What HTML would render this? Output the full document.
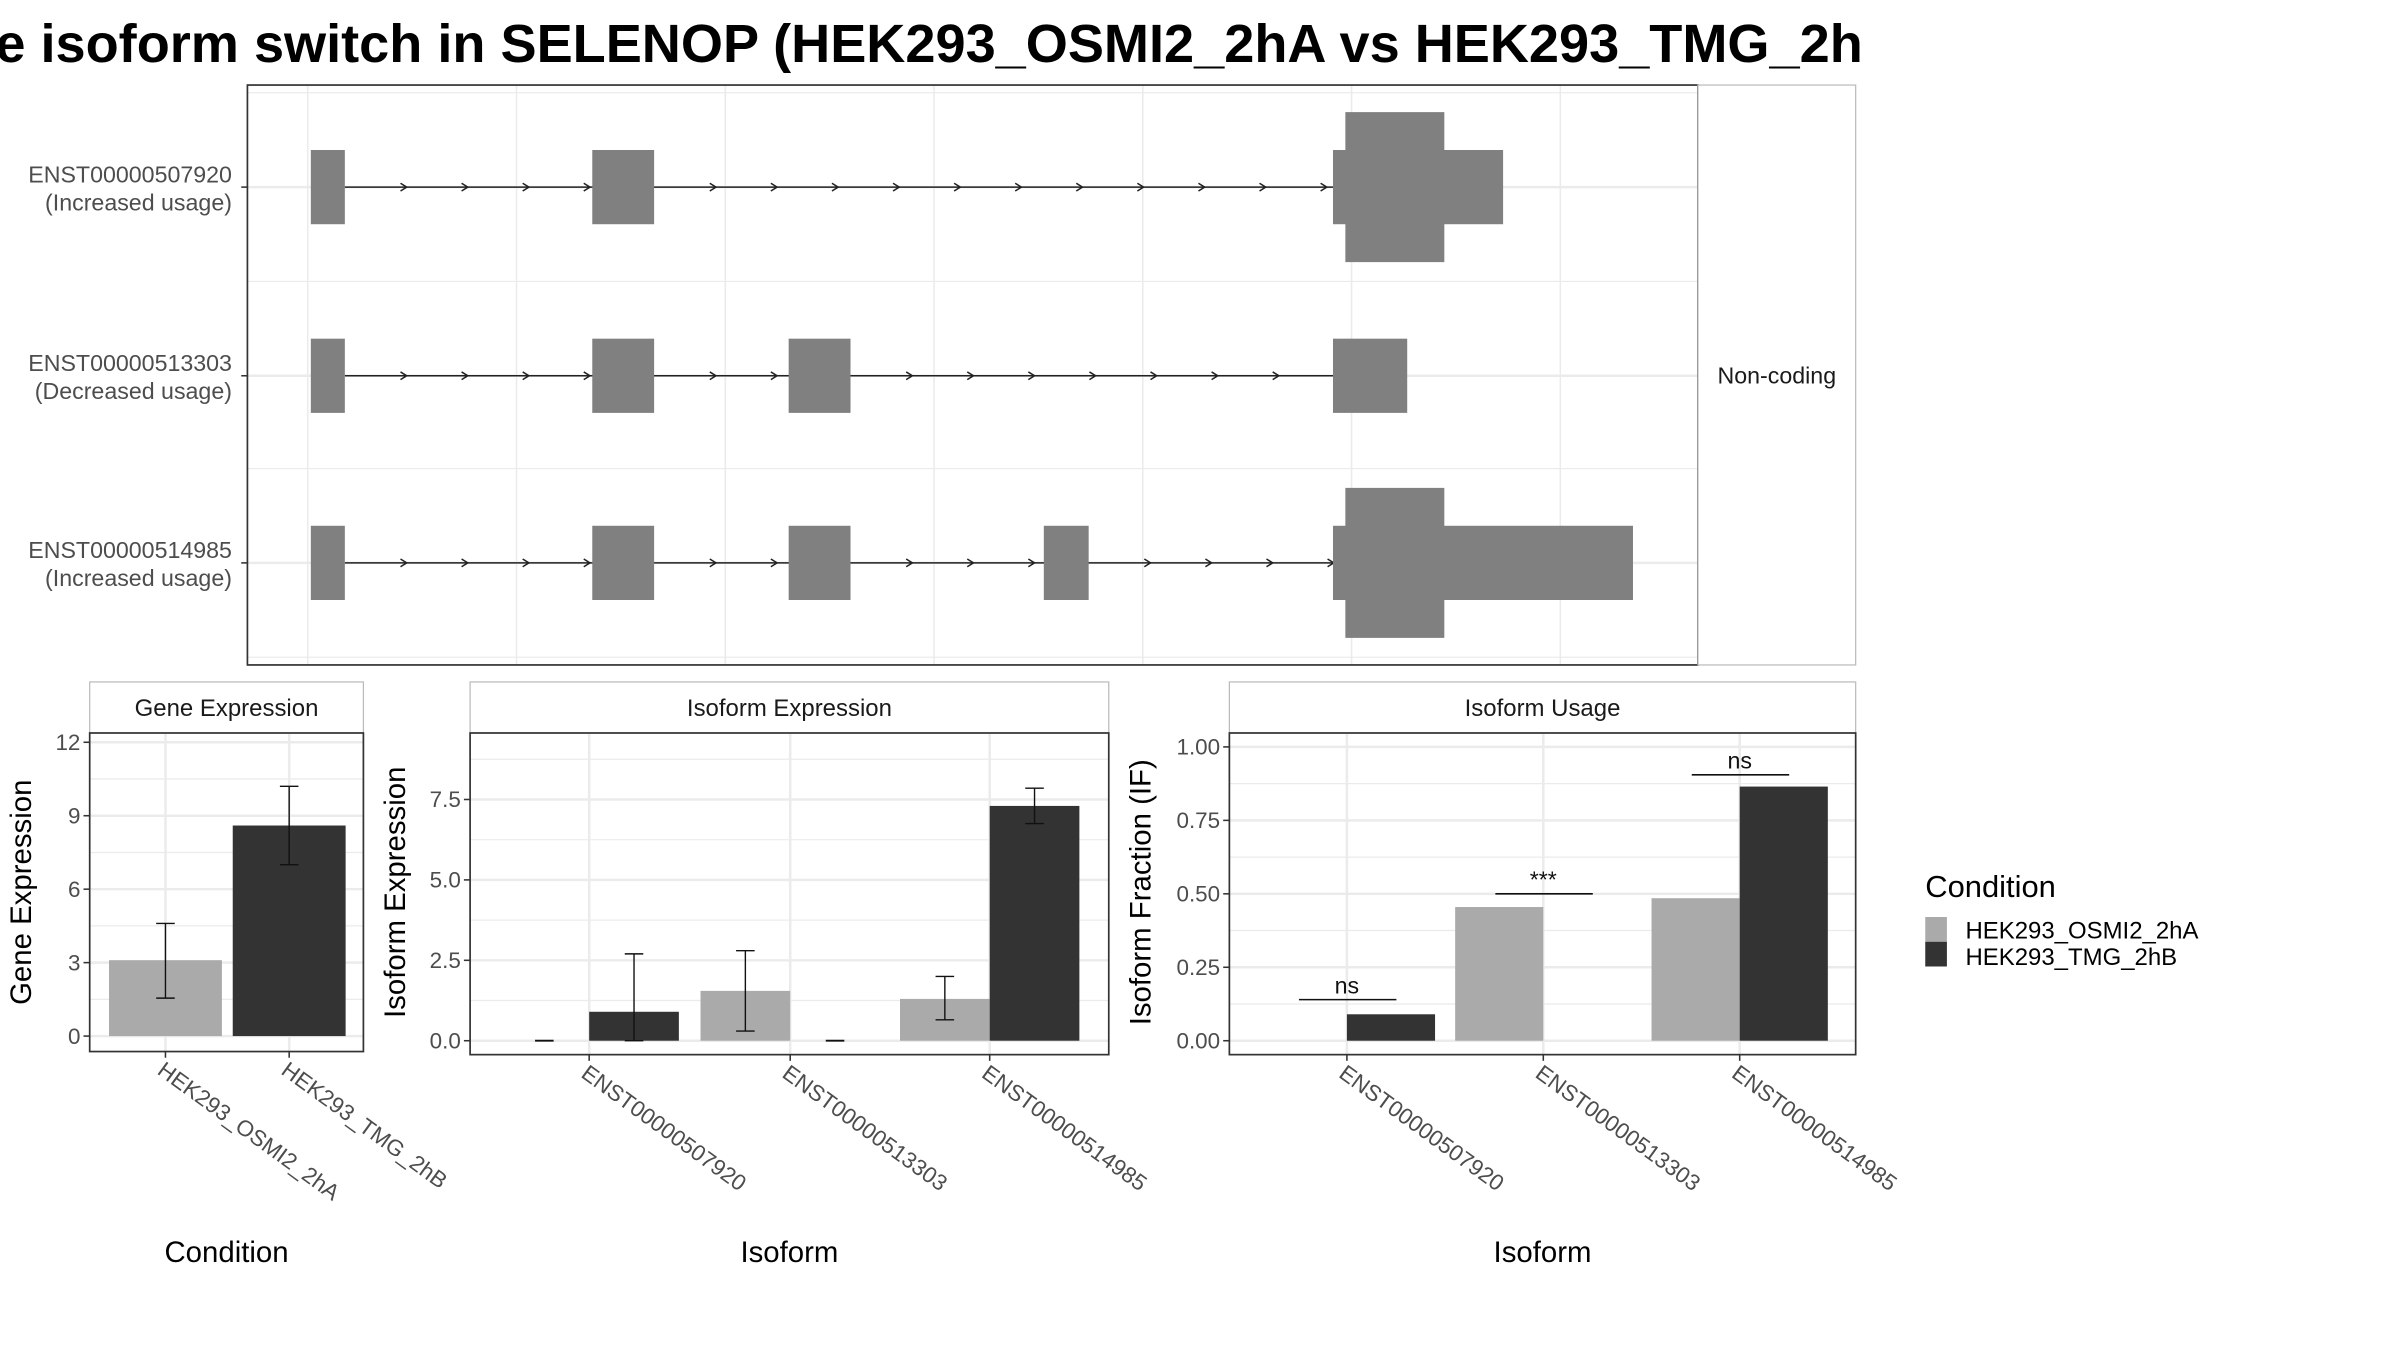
<!DOCTYPE html>
<html><head><meta charset="utf-8">
<style>
html,body{margin:0;padding:0;background:#fff;}
svg{display:block;font-family:"Liberation Sans",Arial,sans-serif;}
</style></head>
<body>
<svg id="root" width="2400" height="1350" viewBox="0 0 1552 873" xmlns="http://www.w3.org/2000/svg">
<rect width="1552" height="873" fill="#fff"/>
<defs><clipPath id="tclip"><rect x="0" y="0" width="1206" height="60"/></clipPath></defs>
<text x="-3" y="40" font-size="35" font-weight="bold" clip-path="url(#tclip)">e isoform switch in SELENOP (HEK293_OSMI2_2hA vs HEK293_TMG_2hB)</text>

<g id="topPanel"></g>
<g id="gene"></g>
<g id="iso"></g>
<g id="usage"></g>

<g>
<text x="1245" y="580" font-size="20">Condition</text>
<rect x="1245" y="593" width="14" height="16" fill="#aaaaaa"/>
<rect x="1245" y="609" width="14" height="16" fill="#333333"/>
<text x="1271" y="607" font-size="15.5">HEK293_OSMI2_2hA</text>
<text x="1271" y="624" font-size="15.5">HEK293_TMG_2hB</text>
</g>
</svg>
<script>
const NS='http://www.w3.org/2000/svg';
function mk(p,tag,a,txt){const e=document.createElementNS(NS,tag);for(const k in a)e.setAttribute(k,a[k]);if(txt!==undefined)e.textContent=txt;p.appendChild(e);return e;}

/* ---------- data ---------- */
const transcripts=['ENST00000507920','ENST00000513303','ENST00000514985'];
const usageLabels=['(Increased usage)','(Decreased usage)','(Increased usage)'];
const exonsStart=[[201,383,862],[201,383,510,862],[201,383,510,675,862]];
const exonsEnd=[[223,423,972],[223,423,550,910],[223,423,550,704,1056]];
const cdsStart=[870,null,870];
const cdsEnd=[934,null,934];

const conditions=['HEK293_OSMI2_2hA','HEK293_TMG_2hB'];
const geneVals=[3.1,8.6];
const geneLo=[1.55,7.0];
const geneHi=[4.6,10.2];
const geneTicks=[0,3,6,9,12];

const isoOsmi=[0,1.55,1.3];
const isoTmg=[0.9,0,7.3];
const isoOsmiLo=[null,0.3,0.65];
const isoOsmiHi=[null,2.8,2.0];
const isoTmgLo=[0,null,6.75];
const isoTmgHi=[2.7,null,7.85];
const isoTicks=[0,2.5,5,7.5];
const isoTickLabels=['0.0','2.5','5.0','7.5'];

const ifOsmi=[0,0.455,0.485];
const ifTmg=[0.09,0,0.865];
const sigLabels=['ns','***','ns'];
const sigY=[0.14,0.5,0.905];
const ifTicks=[0,0.25,0.5,0.75,1];
const ifTickLabels=['0.00','0.25','0.50','0.75','1.00'];

const LIGHT='#aaaaaa',DARK='#333333',GRID='#ebebeb',TXT='#4d4d4d';

/* ---------- top panel ---------- */
const topG=document.getElementById('topPanel');
mk(topG,'rect',{x:160,y:55,width:938,height:375,fill:'#fff'});
[199,334,469,604,739,874,1009].forEach(x=>{const l=mk(topG,'line',{x1:x,x2:x,y1:55,y2:430,stroke:GRID,'stroke-width':1});});
[60,182,303,425].forEach(y=>mk(topG,'line',{x1:160,x2:1098,y1:y,y2:y,stroke:GRID,'stroke-width':0.8}));
const rowY=[121,243,364];
rowY.forEach(y=>mk(topG,'line',{x1:160,x2:1098,y1:y,y2:y,stroke:GRID,'stroke-width':1.6}));
transcripts.forEach((t,i)=>{
  const y=rowY[i];const g=mk(topG,'g',{});
  
  
  const s=exonsStart[i],e=exonsEnd[i];
  mk(g,'line',{x1:e[0],x2:s[s.length-1],y1:y,y2:y,stroke:'#222','stroke-width':1});
  for(let k=0;k<s.length-1;k++){
    for(let x=e[k]+40;x<=s[k+1]+1;x+=39.5){mk(g,'path',{d:`M${x-4},${y-2.5} L${x},${y} L${x-4},${y+2.5}`,stroke:'#222',fill:'none','stroke-width':1});}
  }
  s.forEach((x0,k)=>{const r=mk(g,'rect',{x:x0,y:y-24,width:e[k]-x0,height:48,fill:'#808080'});});
  if(cdsStart[i]!==null){mk(g,'rect',{x:cdsStart[i],y:y-48.5,width:cdsEnd[i]-cdsStart[i],height:97,fill:'#808080'});}
  mk(topG,'text',{x:150,y:y-3,'font-size':15,'text-anchor':'end',fill:TXT},t);
  mk(topG,'text',{x:150,y:y+15,'font-size':15,'text-anchor':'end',fill:TXT},usageLabels[i]);
  mk(topG,'line',{x1:156,x2:160,y1:y,y2:y,stroke:'#333'});
});
mk(topG,'rect',{x:160,y:55,width:938,height:375,fill:'none',stroke:'#333','stroke-width':1.1});
mk(topG,'rect',{x:1098,y:55,width:102,height:375,fill:'#fff',stroke:'#bbb','stroke-width':0.8});
mk(topG,'text',{x:1149,y:248,'font-size':15,'text-anchor':'middle',fill:'#1a1a1a'},'Non-coding');

/* ---------- generic bar panel ---------- */
function panel(g,o){
  mk(g,'rect',{x:o.x0,y:441,width:o.x1-o.x0,height:33,fill:'#fff',stroke:'#bbb','stroke-width':0.8});
  mk(g,'text',{x:(o.x0+o.x1)/2,y:463,'font-size':15.5,'text-anchor':'middle',fill:'#1a1a1a'},o.strip);
  const Y=v=>o.yz-(v)*o.ys;
  for(let k=0;k<o.ticks.length-1;k++){const v=(o.ticks[k]+o.ticks[k+1])/2;mk(g,'line',{x1:o.x0,x2:o.x1,y1:Y(v),y2:Y(v),stroke:GRID,'stroke-width':0.8});}
  if(o.extraMinor!==undefined)mk(g,'line',{x1:o.x0,x2:o.x1,y1:Y(o.extraMinor),y2:Y(o.extraMinor),stroke:GRID,'stroke-width':0.8});
  o.ticks.forEach((v,k)=>{
    const y=Y(v);
    const gl=mk(g,'line',{x1:o.x0,x2:o.x1,y1:y,y2:y,stroke:GRID,'stroke-width':1.6});
    
    mk(g,'line',{x1:o.x0-4,x2:o.x0,y1:y,y2:y,stroke:'#333'});
    const tl=mk(g,'text',{x:o.x0-6,y:y+5,'font-size':14.5,'text-anchor':'end',fill:TXT},o.tickLabels[k]);
    
  });
  o.cats.forEach((c,k)=>{
    const x=o.cx[k];
    mk(g,'line',{x1:x,x2:x,y1:474,y2:o.ybot,stroke:GRID,'stroke-width':1.6});
    mk(g,'line',{x1:x,x2:x,y1:o.ybot,y2:o.ybot+4,stroke:'#333'});
    const tl=mk(g,'text',{x:x-6,y:o.ybot+14,'font-size':14.5,fill:TXT,transform:`rotate(36 ${x-6} ${o.ybot+14})`},c);
    
  });
  o.bars.forEach(b=>{
    const y=Y(b.v),h=Math.max(Y(0)-y,0);
    if(b.v===0 && o.zeroDash){mk(g,'line',{x1:b.x+b.w/2-6,x2:b.x+b.w/2+6,y1:Y(0),y2:Y(0),stroke:'#111','stroke-width':1.2});}
    const r=mk(g,'rect',{x:b.x,y:y,width:b.w,height:h,fill:b.c});
    
    if(b.lo!==null&&b.lo!==undefined){const cx=b.x+b.w/2;
      mk(g,'path',{d:`M${cx-6},${Y(b.hi)}H${cx+6}M${cx},${Y(b.hi)}V${Y(b.lo)}M${cx-6},${Y(b.lo)}H${cx+6}`,stroke:'#111','stroke-width':0.9,fill:'none'});}
  });
  mk(g,'rect',{x:o.x0,y:474,width:o.x1-o.x0,height:o.ybot-474,fill:'none',stroke:'#333','stroke-width':1.1});
  const yt=mk(g,'text',{x:o.ytx,y:577,'font-size':19,'text-anchor':'middle',fill:'#000',transform:`rotate(-90 ${o.ytx} 577)`},o.ytitle);
  
  const xt=mk(g,'text',{x:(o.x0+o.x1)/2,y:816,'font-size':19,'text-anchor':'middle',fill:'#000'},o.xtitle);
  
  return Y;
}

/* gene expression */
{
 const cx=[107,187],w=73,bars=[];
 conditions.forEach((c,k)=>bars.push({x:cx[k]-w/2,w:w,v:geneVals[k],lo:geneLo[k],hi:geneHi[k],c:k?DARK:LIGHT,name:'bar-gene-'+c}));
 panel(document.getElementById('gene'),{x0:58,x1:235,ybot:680,yz:670,ys:190/12,ticks:geneTicks,tickLabels:geneTicks.map(String),cats:conditions,cx:cx,bars:bars,strip:'Gene Expression',ytitle:'Gene Expression',ytx:20,xtitle:'Condition'});
}
/* isoform expression */
{
 const cx=[381,511,640],w=58,bars=[];
 transcripts.forEach((t,k)=>{
  bars.push({x:cx[k]-w,w:w,v:isoOsmi[k],lo:isoOsmiLo[k],hi:isoOsmiHi[k],c:LIGHT,name:'bar-iso-osmi-'+t});
  bars.push({x:cx[k],w:w,v:isoTmg[k],lo:isoTmgLo[k],hi:isoTmgHi[k],c:DARK,name:'bar-iso-tmg-'+t});
 });
 panel(document.getElementById('iso'),{x0:304,x1:717,ybot:682,yz:673,ys:156/7.5,ticks:isoTicks,tickLabels:isoTickLabels,extraMinor:8.75,cats:transcripts,cx:cx,bars:bars,zeroDash:true,strip:'Isoform Expression',ytitle:'Isoform Expression',ytx:262,xtitle:'Isoform'});
}
/* isoform usage */
{
 const cx=[871,998,1125],w=57,bars=[];
 transcripts.forEach((t,k)=>{
  bars.push({x:cx[k]-w,w:w,v:ifOsmi[k],c:LIGHT,name:'bar-if-osmi-'+t});
  bars.push({x:cx[k],w:w,v:ifTmg[k],c:DARK,name:'bar-if-tmg-'+t});
 });
 const g=document.getElementById('usage');
 const Y=panel(g,{x0:795,x1:1200,ybot:682,yz:673,ys:190,ticks:ifTicks,tickLabels:ifTickLabels,cats:transcripts,cx:cx,bars:bars,strip:'Isoform Usage',ytitle:'Isoform Fraction (IF)',ytx:744,xtitle:'Isoform'});
 sigLabels.forEach((s,k)=>{
  const y=Y(sigY[k]);
  const l=mk(g,'line',{x1:cx[k]-31,x2:cx[k]+32,y1:y,y2:y,stroke:'#111','stroke-width':1});
  
  const t=mk(g,'text',{x:cx[k],y:y-4,'font-size':15,'text-anchor':'middle',fill:'#111'},s);
  
 });
}
</script>
</body></html>
